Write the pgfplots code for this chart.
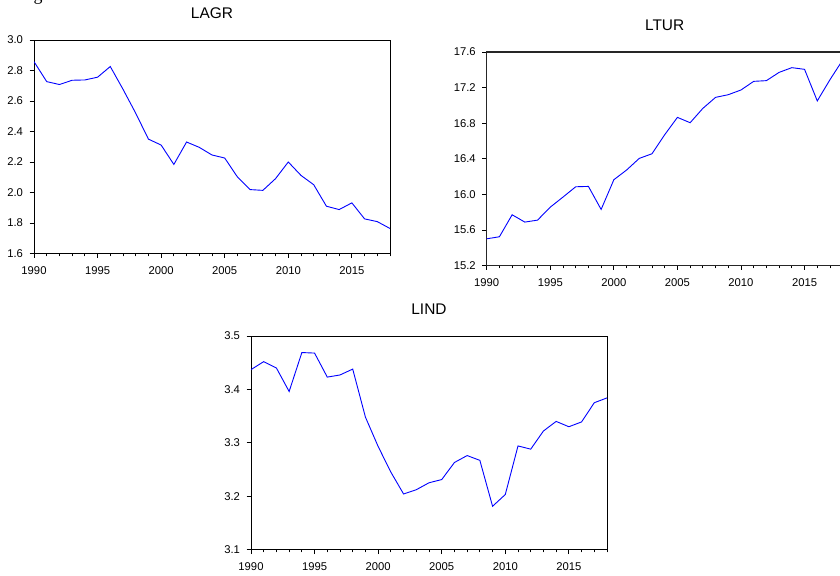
\documentclass[border=0pt]{standalone}
\usepackage{fontspec}
\setmainfont{Liberation Sans}
\newfontfamily\seriffont{Liberation Serif}
\usepackage{pgfplots}
\pgfplotsset{compat=1.18}
\pgfplotsset{
  evstyle/.style={
    scale only axis, width=356bp, height=213.5bp,
    anchor=south west,
    xmin=1990, xmax=2018,
    xtick={1990,1995,...,2015},
    minor xtick={1990,...,2018},
    tick align=outside, tick pos=left,
    major tick length=4.5bp, minor tick length=2.8bp,
    every tick/.style={black, line width=0.8bp},
    axis line style={line width=0.9bp},
    ticklabel style={font=\fontsize{11.3}{13}\selectfont},
    /pgf/number format/assume math mode=true,
    xticklabel style={yshift=-5.5bp, /pgf/number format/1000 sep={}},
    yticklabel style={xshift=-3bp, /pgf/number format/.cd, fixed, fixed zerofill, precision=1},
    every axis title/.style={font=\fontsize{15.5}{18}\selectfont, anchor=base, at={(0.5,1)}, yshift=21.7bp, inner sep=0pt},
    no marks,
    every axis plot/.append style={blue, line width=0.9bp},
  }
}
\begin{document}
\begin{tikzpicture}
\path[use as bounding box] (0,0) rectangle (840bp,576bp);
\clip (0,0) rectangle (840bp,576bp);
\node[font=\seriffont\fontsize{18}{20}\selectfont, anchor=base] at (38bp,575bp) {g};
% LAGR
\begin{axis}[evstyle, at={(34bp,322.5bp)}, ymin=1.6, ymax=3.0, ytick={1.6,1.8,...,3.01}, title={LAGR}]
\addplot coordinates {
(1990,2.858) (1991,2.727) (1992,2.708) (1993,2.736) (1994,2.738) (1995,2.756)
(1996,2.826) (1997,2.677) (1998,2.520) (1999,2.350) (2000,2.311) (2001,2.184)
(2002,2.331) (2003,2.296) (2004,2.246) (2005,2.226) (2006,2.102) (2007,2.019)
(2008,2.014) (2009,2.091) (2010,2.200) (2011,2.112) (2012,2.051) (2013,1.910)
(2014,1.888) (2015,1.932) (2016,1.827) (2017,1.809) (2018,1.764)};
\end{axis}
% LTUR
\begin{axis}[evstyle, at={(486.7bp,310.5bp)}, ymin=15.2, ymax=17.6, ytick={15.2,15.6,...,17.61}, title={LTUR},
  axis line style={line width=1.3bp, black!85}]
\addplot coordinates {
(1990,15.50) (1991,15.523) (1992,15.77) (1993,15.688) (1994,15.71) (1995,15.856)
(1996,15.969) (1997,16.085) (1998,16.089) (1999,15.83) (2000,16.164) (2001,16.273)
(2002,16.404) (2003,16.456) (2004,16.67) (2005,16.865) (2006,16.805) (2007,16.966)
(2008,17.09) (2009,17.12) (2010,17.173) (2011,17.27) (2012,17.278) (2013,17.371)
(2014,17.424) (2015,17.405) (2016,17.05) (2017,17.289) (2018,17.51)};
\end{axis}
% LIND
\begin{axis}[evstyle, at={(251bp,26.5bp)}, ymin=3.1, ymax=3.5, ytick={3.1,3.2,...,3.51}, title={LIND}]
\addplot coordinates {
(1990,3.437) (1991,3.452) (1992,3.440) (1993,3.396) (1994,3.469) (1995,3.468)
(1996,3.423) (1997,3.427) (1998,3.438) (1999,3.348) (2000,3.293) (2001,3.245)
(2002,3.204) (2003,3.212) (2004,3.225) (2005,3.231) (2006,3.263) (2007,3.276)
(2008,3.267) (2009,3.181) (2010,3.203) (2011,3.294) (2012,3.288) (2013,3.322)
(2014,3.340) (2015,3.330) (2016,3.339) (2017,3.375) (2018,3.384)};
\end{axis}
\end{tikzpicture}
\end{document}
